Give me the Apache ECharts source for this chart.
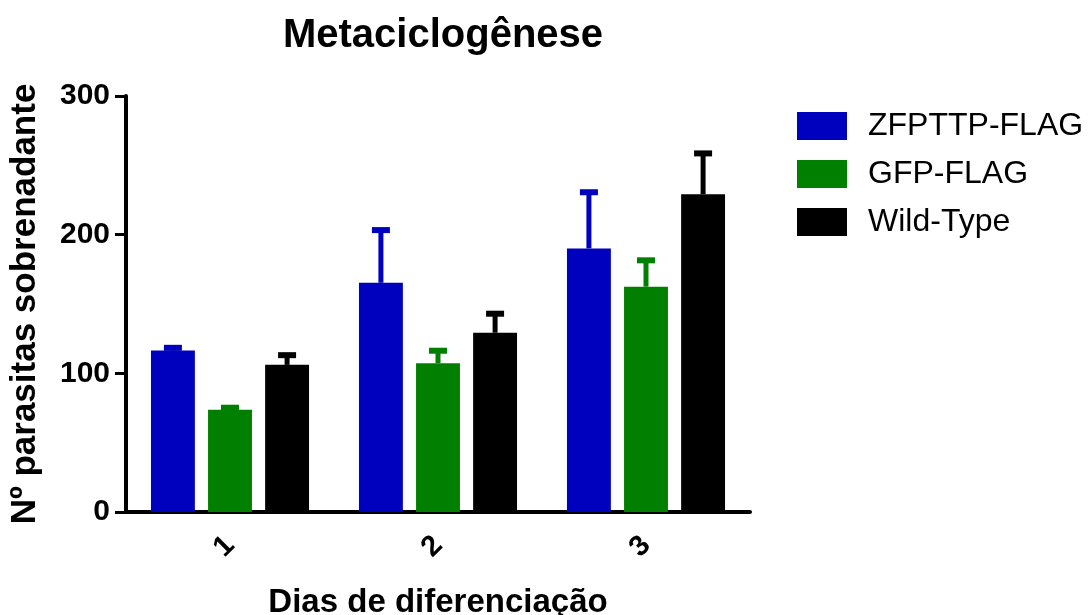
<!DOCTYPE html>
<html>
<head>
<meta charset="utf-8">
<script src="https://cdn.jsdelivr.net/npm/echarts@6/dist/echarts.min.js"></script>
<style>
html,body{margin:0;padding:0;background:#fff;}
#chart{width:1089px;height:615px;}
</style>
</head>
<body>
<div id="chart"></div>
<script>
const categories = ['1', '2', '3'];
const seriesNames = ['ZFPTTP-FLAG', 'GFP-FLAG', 'Wild-Type'];
const zfpttpValues = [116.4, 165.3, 190.1];
const gfpValues = [73.7, 107.3, 162.5];
const wildTypeValues = [106.1, 129.3, 229.2];
const zfpttpErrors = [2.0, 38.0, 40.5];
const gfpErrors = [1.5, 9.0, 19.0];
const wildTypeErrors = [7.0, 13.7, 29.4];
const yTicks = [0, 100, 200, 300];

const colors = ['#0000BF', '#007F00', '#000000'];
const valuesList = [zfpttpValues, gfpValues, wildTypeValues];
const errorsList = [zfpttpErrors, gfpErrors, wildTypeErrors];

const FONT = 'Liberation Sans, Arial, sans-serif';
const CAT_GAP = 0.24;
const BAR_GAP = 0.30;

function makeErrorSeries(idx) {
  const vals = valuesList[idx];
  const errs = errorsList[idx];
  const data = categories.map((c, i) => [i, vals[i], vals[i] + errs[i]]);
  return {
    type: 'custom',
    name: seriesNames[idx] + ' err',
    z: 3,
    silent: true,
    data: data,
    encode: { x: 0, y: [1, 2] },
    renderItem: function (params, api) {
      const xi = api.value(0);
      const base = api.coord([xi, api.value(1)]);
      const top = api.coord([xi, api.value(2)]);
      const band = api.size([1, 0])[0];
      const group = band * (1 - CAT_GAP);
      const n = 3;
      const w = group / (n + (n - 1) * BAR_GAP);
      const cx = base[0] + (idx - 1) * w * (1 + BAR_GAP);
      const stemW = 5, capW = 18, capH = 6;
      return {
        type: 'group',
        children: [
          { type: 'rect', shape: { x: cx - stemW / 2, y: top[1], width: stemW, height: Math.max(0, base[1] - top[1]) }, style: { fill: colors[idx] } },
          { type: 'rect', shape: { x: cx - capW / 2, y: top[1] - capH / 2, width: capW, height: capH }, style: { fill: colors[idx] } }
        ]
      };
    }
  };
}

const barSeries = seriesNames.map((name, idx) => ({
  type: 'bar',
  name: name,
  data: valuesList[idx],
  barCategoryGap: (CAT_GAP * 100) + '%',
  barGap: (BAR_GAP * 100) + '%',
  itemStyle: { color: colors[idx] },
  z: 2
}));

const chart = echarts.init(document.getElementById('chart'), null, { renderer: 'canvas' });
chart.setOption({
  backgroundColor: '#ffffff',
  animation: false,
  title: {
    text: 'Metaciclogênese',
    left: 438,
    top: 11,
    textAlign: 'center',
    textStyle: { fontFamily: FONT, fontWeight: 'bold', fontSize: 40, color: '#000' }
  },
  legend: {
    orient: 'vertical',
    left: 792,
    top: 105,
    itemWidth: 50,
    itemHeight: 28,
    itemGap: 16,
    icon: 'rect',
    data: seriesNames,
    textStyle: { fontFamily: FONT, fontSize: 32, color: '#000', padding: [0, 0, 0, 16] }
  },
  grid: { left: 126, right: 339, top: 96, bottom: 103, containLabel: false, outerBoundsMode: 'none' },
  xAxis: {
    type: 'category',
    data: categories,
    name: 'Dias de diferenciação',
    nameLocation: 'middle',
    nameGap: 74,
    nameTextStyle: { fontFamily: FONT, fontWeight: 'bold', fontSize: 33, color: '#000' },
    axisLine: { lineStyle: { color: '#000', width: 4 } },
    axisTick: { alignWithLabel: true, length: 9, lineStyle: { color: '#000', width: 3 } },
    axisLabel: { rotate: 45, margin: 29, fontFamily: FONT, fontWeight: 'bold', fontSize: 29, color: '#000' },
    splitLine: { show: false }
  },
  yAxis: {
    type: 'value',
    min: yTicks[0],
    max: yTicks[yTicks.length - 1],
    interval: 100,
    name: 'Nº parasitas sobrenadante',
    nameLocation: 'middle',
    nameGap: 83,
    nameRotate: 90,
    nameTextStyle: { fontFamily: FONT, fontWeight: 'bold', fontSize: 35, color: '#000' },
    axisLine: { show: true, lineStyle: { color: '#000', width: 4 } },
    axisTick: { show: true, length: 11, lineStyle: { color: '#000', width: 3 } },
    axisLabel: { margin: 16, fontFamily: FONT, fontWeight: 'bold', fontSize: 30, color: '#000' },
    splitLine: { show: false }
  },
  series: barSeries.concat([0, 1, 2].map(makeErrorSeries))
});
</script>
</body>
</html>
